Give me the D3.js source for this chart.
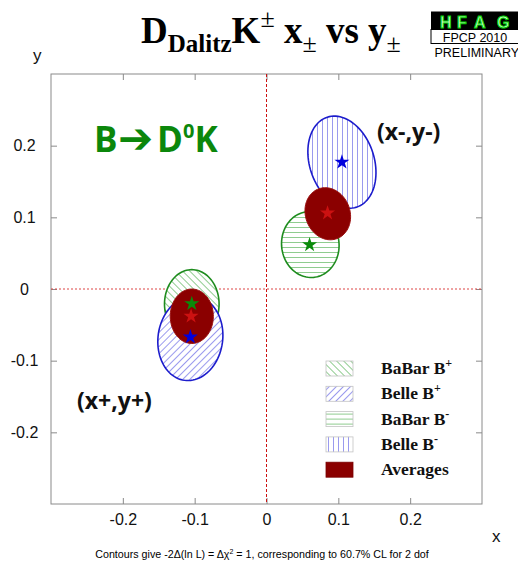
<!DOCTYPE html>
<html>
<head>
<meta charset="utf-8">
<script src="https://cdn.jsdelivr.net/npm/d3@7"></script>
<style>
  body { margin: 0; background: #fff; }
</style>
</head>
<body>
<script>
var width = 518, height = 561;

var xTicks = [-0.2, -0.1, 0, 0.1, 0.2];
var yTicks = [-0.2, -0.1, 0, 0.1, 0.2];

// 1-sigma contours (centre, semi-axes, tilt in degrees, counter-clockwise)
var contourNames = ["BaBar B+", "Belle B+", "BaBar B-", "Belle B-"];
var contourX    = [-0.104, -0.106, 0.061, 0.105];
var contourY    = [-0.021, -0.069, 0.062, 0.177];
var contourRx   = [0.038, 0.045, 0.040, 0.045];
var contourRy   = [0.048, 0.059, 0.046, 0.066];
var contourTilt = [0, -8, 6, 18];

// averages
var avgX    = [-0.104, 0.0853];
var avgY    = [-0.038, 0.105];
var avgRx   = [0.030, 0.031];
var avgRy   = [0.038, 0.037];
var avgTilt = [0, 20];

// central values
var starX = [-0.104, -0.106, 0.060, 0.105, -0.105, 0.085];
var starY = [-0.0205, -0.067, 0.0617, 0.177, -0.038, 0.106];
var starKind = ["babar", "belle", "babar", "belle", "avg", "avg"];

var legendNames = ["BaBar B", "Belle B", "BaBar B", "Belle B", "Averages"];
var legendSup = ["+", "+", "-", "-", ""];

var colors = { babar: "#1e8c1e", belle: "#1c1ccc", avg: "#8b0000" };
var starColors = { babar: "#0a8a0a", belle: "#0000dd", avg: "#cc1111" };

var svg = d3.select("body").append("svg")
    .attr("width", width)
    .attr("height", height)
    .style("font-family", "'Liberation Sans', Arial, sans-serif");

var x = d3.scaleLinear().domain([-0.3, 0.3]).range([51, 482]);
var y = d3.scaleLinear().domain([-0.3, 0.3]).range([504, 74]);

// hatch patterns
var defs = svg.append("defs");
var hatches = [
  { id: "h0", angle: -45, color: "#8fcc8f" },
  { id: "h1", angle: 45, color: "#9a9aee" },
  { id: "h2", angle: 90, color: "#8fcc8f" },
  { id: "h3", angle: 0, color: "#9a9aee" }
];
hatches.forEach(function(h) {
  var p = defs.append("pattern")
      .attr("id", h.id)
      .attr("patternUnits", "userSpaceOnUse")
      .attr("width", 5).attr("height", 5)
      .attr("patternTransform", "rotate(" + h.angle + ")");
  p.append("rect").attr("width", 5).attr("height", 5).attr("fill", "#fff");
  p.append("line")
      .attr("x1", 2.5).attr("y1", 0).attr("x2", 2.5).attr("y2", 5)
      .attr("stroke", h.color).attr("stroke-width", 1);
});

// frame + axes
svg.append("rect")
    .attr("x", x(-0.3)).attr("y", y(0.3))
    .attr("width", x(0.3) - x(-0.3)).attr("height", y(-0.3) - y(0.3))
    .attr("fill", "none").attr("stroke", "#8a8a8a").attr("stroke-width", 1);

var fmt = function(d) { return String(d); };

var gx = svg.append("g")
    .attr("transform", "translate(0," + y(-0.3) + ")")
    .call(d3.axisBottom(x).tickValues(xTicks).tickSize(-6).tickPadding(10).tickFormat(fmt));
var gx2 = svg.append("g")
    .attr("transform", "translate(0," + y(0.3) + ")")
    .call(d3.axisTop(x).tickValues(xTicks).tickSize(-6).tickFormat(""));
var gy = svg.append("g")
    .attr("transform", "translate(" + x(-0.3) + ",0)")
    .call(d3.axisLeft(y).tickValues(yTicks).tickSize(-6).tickFormat(fmt));
var gy2 = svg.append("g")
    .attr("transform", "translate(" + x(0.3) + ",0)")
    .call(d3.axisRight(y).tickValues(yTicks).tickSize(-6).tickFormat(""));

[gx, gx2, gy, gy2].forEach(function(g) {
  g.select(".domain").remove();
  g.selectAll("line").attr("stroke", "#8a8a8a");
  g.selectAll("text")
      .attr("fill", "#111")
      .style("font-size", "16px")
      .style("font-family", "'Liberation Sans', Arial, sans-serif");
});
gy.selectAll("text").attr("text-anchor", "middle").attr("x", -26.5);

svg.append("text").attr("x", 492).attr("y", 542)
    .style("font-size", "17px").attr("fill", "#111").text("x");
svg.append("text").attr("x", 33).attr("y", 61)
    .style("font-size", "17px").attr("fill", "#111").text("y");

// zero lines
svg.append("line")
    .attr("x1", x(0)).attr("x2", x(0)).attr("y1", y(0.3)).attr("y2", y(-0.3))
    .attr("stroke", "#cc1111").attr("stroke-width", 1).attr("stroke-dasharray", "3,2");
svg.append("line")
    .attr("x1", x(-0.3)).attr("x2", x(0.3)).attr("y1", y(0)).attr("y2", y(0))
    .attr("stroke", "#dd4444").attr("stroke-width", 1).attr("stroke-dasharray", "2,2");

// ellipse outline in screen space, so hatching stays aligned to the page
var steps = d3.range(0, 96).map(function(i) { return i / 96 * 2 * Math.PI; });
function ellipsePath(d) {
  var th = d.tilt * Math.PI / 180;
  return d3.line().curve(d3.curveLinearClosed)(steps.map(function(t) {
    var dx = d.rx * Math.cos(t), dy = d.ry * Math.sin(t);
    return [x(d.cx + dx * Math.cos(th) - dy * Math.sin(th)),
            y(d.cy + dx * Math.sin(th) + dy * Math.cos(th))];
  }));
}

var contours = contourNames.map(function(n, i) {
  return { name: n, cx: contourX[i], cy: contourY[i], rx: contourRx[i], ry: contourRy[i],
           tilt: contourTilt[i], kind: i % 2 === 0 ? "babar" : "belle", pat: "h" + i };
});

svg.append("g").selectAll("path")
  .data(contours)
  .enter().append("path")
    .attr("d", ellipsePath)
    .attr("fill", function(d) { return "url(#" + d.pat + ")"; })
    .attr("stroke", function(d) { return colors[d.kind]; })
    .attr("stroke-width", 1.6);

var avgs = avgX.map(function(v, i) {
  return { cx: v, cy: avgY[i], rx: avgRx[i], ry: avgRy[i], tilt: avgTilt[i] };
});

svg.append("g").selectAll("path")
  .data(avgs)
  .enter().append("path")
    .attr("d", ellipsePath)
    .attr("fill", colors.avg)
    .attr("stroke", "#9a1010").attr("stroke-width", 1);

var star = d3.symbol().type(d3.symbolStar).size(70);
svg.append("g").selectAll("path")
  .data(starX.map(function(v, i) { return { x: v, y: starY[i], kind: starKind[i] }; }))
  .enter().append("path")
    .attr("d", star)
    .attr("transform", function(d) { return "translate(" + x(d.x) + "," + y(d.y) + ")"; })
    .attr("fill", function(d) { return starColors[d.kind]; });

// legend
var legend = svg.append("g").attr("transform", "translate(326,361)");
var row = legend.selectAll("g")
  .data(legendNames)
  .enter().append("g")
    .attr("transform", function(d, i) { return "translate(0," + (i * 25.3) + ")"; });

row.append("rect")
    .attr("width", 27).attr("height", 15)
    .attr("fill", function(d, i) { return i < 4 ? "url(#h" + i + ")" : colors.avg; })
    .attr("stroke", function(d, i) { return i < 4 ? "#c4c4c4" : "#7a0000"; })
    .attr("stroke-width", 0.8);

var lt = row.append("text")
    .attr("x", 55).attr("y", 13)
    .style("font-family", "'Liberation Serif', 'Times New Roman', serif")
    .style("font-weight", "bold")
    .style("font-size", "17.5px")
    .attr("fill", "#111");
lt.append("tspan").text(function(d) { return d; });
lt.append("tspan")
    .attr("dy", -7)
    .style("font-size", "12px")
    .text(function(d, i) { return legendSup[i]; });

// annotations
var big = svg.append("text")
    .attr("y", 152)
    .style("font-family", "'Open Sans', sans-serif")
    .style("font-weight", "bold")
    .style("font-size", "35px")
    .attr("fill", "#0b870b");
big.append("tspan").attr("x", 94).text("B");
big.append("tspan").attr("x", 118).attr("dy", 1)
    .style("font-family", "'DejaVu Sans', sans-serif")
    .style("font-size", "42px").text("\u2794");
big.append("tspan").attr("x", 157).attr("dy", -1).text("D");
big.append("tspan").attr("x", 183).attr("dy", -14).style("font-size", "20px").text("0");
big.append("tspan").attr("x", 194.5).attr("dy", 14).text("K");

svg.append("text")
    .attr("x", 377).attr("y", 140)
    .style("font-family", "'Open Sans', sans-serif")
    .style("font-weight", "bold").style("font-size", "23px")
    .attr("fill", "#111").text("(x-,y-)");
svg.append("text")
    .attr("x", 77).attr("y", 409)
    .style("font-family", "'Open Sans', sans-serif")
    .style("font-weight", "bold").style("font-size", "23px")
    .attr("fill", "#111").text("(x+,y+)");

// title
var title = svg.append("text")
    .attr("x", 141).attr("y", 43)
    .style("font-family", "'Liberation Serif', 'Times New Roman', serif")
    .style("font-weight", "bold")
    .style("font-size", "37px")
    .attr("fill", "#000");
title.append("tspan").text("D");
title.append("tspan").attr("dy", 9).style("font-size", "25px").text("Dalitz");
title.append("tspan").attr("dy", -9).text("K");
title.append("tspan").attr("dy", -16).style("font-size", "26px").style("font-weight", "normal").text("\u00b1");
title.append("tspan").attr("dy", 16).text(" x");
title.append("tspan").attr("dy", 9).style("font-size", "26px").style("font-weight", "normal").text("\u00b1");
title.append("tspan").attr("dy", -9).text(" vs y");
title.append("tspan").attr("dy", 9).style("font-size", "26px").style("font-weight", "normal").text("\u00b1");

// HFAG logo
var logo = svg.append("g");
logo.append("rect").attr("x", 431).attr("y", 11.5).attr("width", 95).attr("height", 18)
    .attr("fill", "#000");
logo.append("rect").attr("x", 431).attr("y", 29.5).attr("width", 95).attr("height", 14)
    .attr("fill", "#fff").attr("stroke", "#000").attr("stroke-width", 1);
logo.append("text").attr("x", "440 457 474 497").attr("y", 28)
    .style("font-weight", "bold").style("font-size", "16px")
    .attr("fill", "#c8ffc8").attr("stroke", "#00d000").attr("stroke-width", 1)
    .text("HFAG");
logo.append("text").attr("x", 475).attr("y", 41.5)
    .attr("text-anchor", "middle")
    .style("font-size", "12.5px").attr("fill", "#000")
    .text("FPCP 2010");
logo.append("text").attr("x", 434.5).attr("y", 57)
    .style("font-size", "12.5px").attr("fill", "#000")
    .text("PRELIMINARY");

// footnote
var foot = svg.append("text")
    .attr("x", 262).attr("y", 558)
    .attr("text-anchor", "middle")
    .style("font-size", "10.7px").attr("fill", "#000");
foot.append("tspan").text("Contours give -2\u0394(ln L) = \u0394\u03c7");
foot.append("tspan").attr("dy", -4).style("font-size", "7px").text("2");
foot.append("tspan").attr("dy", 4).text(" = 1, corresponding to 60.7% CL for 2 dof");
</script>
</body>
</html>
